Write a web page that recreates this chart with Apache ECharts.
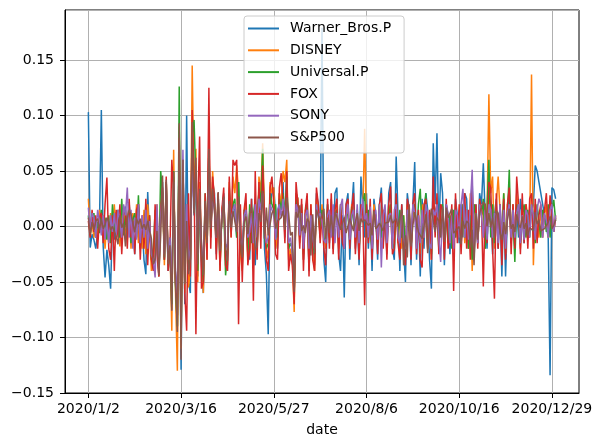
<!DOCTYPE html>
<html><head><meta charset="utf-8">
<script src="https://cdn.jsdelivr.net/npm/echarts@6/dist/echarts.min.js"></script>
<style>html,body{margin:0;padding:0;background:#fff}#c{width:593px;height:436px}</style>
</head><body><div id="c"></div>
<script>
var seriesNames = ['Warner_Bros.P','DISNEY','Universal.P','FOX','SONY','S&P500'];
var tickPositions = [0,50,100,150,200,250];
var tickLabels = ['2020/1/2','2020/3/16','2020/5/27','2020/8/6','2020/10/16','2020/12/29'];

var warner = [
.103,-.019,-.007,-.012,-.02,-.006,.004,.105,-.018,-.046,
-.021,-.035,-.056,.006,-.012,.013,-.004,.008,-.015,.01,
.018,-.008,.022,-.014,.005,-.025,.012,.02,-.018,.003,
-.03,-.043,.031,-.01,-.02,-.035,-.028,.015,-.045,.01,
.04,-.03,.035,-.04,-.02,-.075,.045,-.05,-.09,.085,
-.129,.06,-.07,.1,-.05,-.06,.09,.01,.05,-.045,
.03,-.035,-.06,.02,-.02,.07,-.01,.04,.03,-.025,
.025,-.03,.01,.03,-.03,-.04,.035,-.005,.02,.015,
-.01,.04,-.02,-.035,.01,.02,-.015,-.03,.025,-.02,
-.035,.015,.03,.02,.05,-.02,-.043,-.097,.02,.03,
.035,.01,-.02,.03,.015,.04,-.01,.05,-.02,-.03,
-.02,-.065,.03,.025,-.01,.02,-.03,.01,.025,-.04,
.01,-.02,-.035,.03,.02,-.01,.179,-.03,-.05,.02,
-.015,.025,-.02,.03,.035,-.025,-.04,.01,-.064,.02,
.03,-.03,.015,.04,-.02,.01,-.035,.045,.02,-.01,
.03,-.02,.015,-.04,.025,.01,-.03,.02,.035,-.015,
.01,-.025,.03,.04,-.02,-.03,.063,.01,-.04,.02,
-.02,-.05,.03,.015,-.035,.02,.058,-.03,.01,-.045,
.025,-.02,.03,.015,-.03,-.056,.075,.02,.084,-.01,
.048,.03,-.035,.02,.01,-.025,.015,-.02,.025,.01,
-.015,.02,-.01,.03,.025,-.02,.015,.04,-.03,.02,
-.015,.03,.02,.057,.01,-.02,.03,.02,-.025,.01,
.025,-.02,.015,-.045,.02,-.045,.01,.03,-.015,.02,
-.02,.015,-.01,.025,.01,-.015,.02,-.01,.015,.01,
.02,.055,.05,.04,.03,.02,.01,0,-.01,-.134,
.035,.033,.025];

var disney = [
.025,-.005,.003,-.01,.008,-.012,.015,-.004,.01,-.02,
.005,-.015,.012,-.008,.02,-.01,.006,-.018,.01,.015,
-.012,.008,.018,-.02,.012,-.006,.02,-.015,.005,-.02,
.015,-.025,.02,-.005,-.04,-.03,-.01,.02,-.045,.005,
.03,-.035,.04,-.03,-.015,-.094,.069,-.06,-.13,.09,
-.11,.05,-.06,.02,-.055,-.04,.145,.03,.07,-.05,
.04,-.02,-.06,.015,-.03,.08,-.01,.05,.02,-.02,
.03,-.04,.015,.025,-.03,-.035,.04,-.01,.045,.03,
.055,.03,-.025,-.04,.01,.02,-.03,-.02,.015,-.035,
.02,-.025,.045,.03,.075,.01,-.02,-.03,.04,.03,
.035,-.02,-.01,.03,.02,.05,.04,.06,-.03,-.02,
-.03,-.077,.03,.025,-.015,.02,-.03,.015,.01,-.035,
.02,-.025,-.04,.025,.015,-.01,.02,-.01,-.02,.015,
-.01,.02,-.015,.01,.02,-.02,.015,-.01,.005,.01,
.015,-.01,.02,.01,-.015,.005,-.02,.015,.01,.088,
-.005,.01,-.01,-.015,.02,.005,-.01,.01,-.02,.015,
.01,-.015,.02,.01,-.02,-.01,.02,-.015,.01,-.02,
.01,-.03,.02,.015,-.02,.01,.02,-.015,.01,-.025,
.02,-.01,.015,-.02,.01,-.03,.025,.01,.02,-.015,
.02,.01,-.02,.015,-.01,-.015,.01,-.02,.02,-.01,
.015,-.01,.02,-.015,.01,-.02,.03,-.04,.02,.015,
-.01,.02,.015,.01,-.02,.01,.119,.03,.045,-.02,
.02,.045,.015,-.02,.03,-.025,.02,.015,-.01,.02,
-.015,.03,.01,-.02,.015,-.01,.02,.01,-.005,.137,
-.035,.02,.005,-.01,.015,-.005,.01,.02,-.01,.005,
.015,-.005,.01];

var universal = [
.01,-.008,.005,.012,-.01,.004,-.006,.015,-.01,.008,
-.012,.01,-.015,.02,-.005,.008,.015,-.01,.025,-.008,
.01,-.012,.02,-.015,.006,.012,-.01,.028,-.02,.005,
-.015,.02,-.025,.01,-.03,-.025,.015,-.01,-.04,.05,
.03,-.03,.04,-.035,-.01,-.07,.05,-.055,-.09,.126,
-.1,.06,-.05,.01,-.04,-.03,.08,.096,.04,-.04,
.03,-.03,-.05,.03,-.02,.06,-.005,.035,.02,-.015,
.025,-.035,.01,.02,-.044,-.025,.03,.005,.02,.025,
-.01,.04,-.02,-.03,.015,.01,-.025,.02,-.015,.01,
.025,-.02,.035,.02,.07,-.01,-.02,-.015,.03,.02,
.015,.02,-.01,.025,.015,.03,.01,.045,-.02,-.015,
-.02,-.06,.025,.02,-.01,.015,-.025,.01,.02,-.03,
.015,-.015,-.025,.02,.01,-.005,.015,-.01,-.015,.02,
-.01,.015,-.02,.01,.015,-.015,.02,-.01,.005,.012,
.01,-.012,.018,.005,-.01,.015,-.02,.01,.02,.03,
-.01,.015,-.005,-.02,.01,.005,-.015,.02,-.01,.01,
.015,-.01,.01,.02,-.015,-.02,.025,-.01,.015,-.01,
.01,-.025,.015,.01,-.02,.015,.02,-.01,.02,.034,
-.01,.015,.03,-.015,.01,-.025,.02,.015,.01,-.02,
.015,.02,-.01,.01,-.015,.01,-.02,.015,-.01,.005,
.01,-.015,.02,-.01,.015,-.02,.01,-.03,.02,.01,
-.015,.02,.01,.025,-.02,.015,.06,-.01,.02,-.015,
.015,-.01,.02,-.015,.03,-.02,.01,.051,-.015,.01,
-.032,.02,.01,-.015,.01,.02,-.01,.015,-.01,.02,
.01,-.015,.02,.005,-.01,.015,.01,-.005,.02,-.01,
.015,.024,.005];

var fox = [
.005,-.01,.015,-.005,.01,-.02,.008,.012,-.015,.02,
.044,-.02,-.03,.01,-.04,.015,-.01,.02,-.025,.01,
.015,-.02,.025,-.01,.005,-.025,.015,.02,-.03,.01,
-.02,.025,-.035,.01,-.03,-.04,.02,-.025,-.045,.015,
.035,-.03,.045,-.04,-.02,.06,.03,-.05,-.08,.08,
-.09,.05,-.06,-.094,.03,-.045,.105,.04,-.097,.02,
.081,-.056,-.05,.03,-.03,.125,-.02,.045,.025,-.03,
.03,-.04,.015,.035,-.035,-.04,.045,-.01,.06,.055,
.06,-.088,.02,-.05,.015,.03,-.035,-.02,.025,-.067,
.05,-.03,.04,-.02,.055,.01,-.03,-.04,.035,.045,
.02,-.025,-.03,.035,.048,.02,-.015,.05,-.04,-.025,
-.035,-.07,.04,.02,-.02,.025,-.04,.015,.03,-.045,
.02,-.03,-.04,.035,.02,-.015,.01,-.02,-.035,.025,
-.02,.03,-.025,.015,.025,-.03,.02,-.015,-.02,.02,
.025,-.02,.015,.03,-.025,.01,-.03,.02,.015,-.071,
.02,-.015,.025,-.03,.015,.01,-.025,.02,.03,-.02,
.015,-.03,.02,.036,-.025,-.02,.03,-.015,-.03,.02,
-.02,-.035,.025,.015,-.03,.02,.03,-.025,.015,-.03,
-.037,.02,.025,-.02,.015,-.03,.045,-.01,.03,-.025,
.02,.015,-.03,.025,-.02,-.01,.02,-.058,.03,-.015,
.02,-.025,.015,.03,-.02,.015,-.03,.035,-.025,.02,
-.02,.025,.015,-.054,.02,-.015,.04,.035,-.02,-.065,
.03,-.02,.02,-.035,.025,-.03,.02,.035,-.025,.02,
-.02,.045,.02,-.025,.03,-.015,.02,-.02,.025,.03,
-.02,.025,-.015,.01,.02,-.01,.015,.03,-.005,.028,
.01,-.005,.008];

var sony = [
.017,-.005,.012,.008,-.01,.015,.005,-.008,.01,-.012,
.006,-.015,.01,-.005,.012,-.008,.015,.005,-.01,.02,
.01,.035,-.01,.015,-.02,.008,-.012,.02,-.015,.01,
-.01,.015,-.02,.005,-.025,-.03,-.046,.02,-.035,.01,
.03,-.025,.035,-.03,-.01,-.05,.04,-.04,-.06,.05,
-.045,.069,-.035,.02,-.03,-.02,.05,.02,.035,-.025,
.02,-.015,-.035,.015,-.01,.04,.005,.025,.015,-.01,
.02,-.02,.01,.025,-.015,-.02,.02,.005,.015,.02,
-.005,.02,-.01,-.02,.01,.015,-.01,-.005,.012,-.015,
.02,-.01,.025,.015,.03,-.005,-.015,-.01,.02,.015,
.01,-.012,.015,.02,.008,.025,.01,.02,-.015,-.01,
-.01,-.04,.02,.015,-.008,.012,-.02,.01,.015,-.02,
.01,-.01,-.02,.02,.008,.012,.005,-.012,-.015,.01,
.015,-.01,.02,-.015,.012,-.01,.018,.025,-.02,.01,
.02,-.012,.01,.015,-.01,.02,-.015,.01,.025,.005,
.012,-.01,.018,-.02,.01,.015,-.012,.02,-.037,.01,
.02,-.015,.01,.012,-.02,.015,.02,-.01,-.015,.012,
-.01,-.02,.015,.01,-.015,.02,.012,-.02,.01,-.015,
.015,-.01,.02,.012,-.015,-.02,.015,.01,.02,-.01,
-.032,.015,-.01,.02,.012,-.015,.01,-.02,.015,.01,
-.01,.02,.034,-.01,.015,-.012,.02,.051,-.02,.012,
-.015,.02,.01,-.01,.015,-.012,.02,.015,-.01,.012,
.01,-.015,.02,-.01,.015,-.02,.012,.02,-.01,.015,
-.01,.012,.02,-.015,.01,-.012,.015,.01,-.01,.02,
.01,-.012,.015,.025,.02,-.01,.012,.005,-.01,.015,
.02,-.005,.01];

var sp500 = [
.008,-.007,.004,-.003,.005,.007,-.003,.007,-.002,.002,
.008,.004,-.003,0,.001,-.009,-.016,.01,-.001,.003,
-.018,.007,.015,.011,.003,-.005,.007,.002,.007,-.002,
.002,-.003,.005,-.004,-.011,-.034,-.03,-.004,-.044,-.008,
.046,-.028,.042,-.034,-.017,-.076,.049,-.049,-.095,.093,
-.12,.06,-.052,.005,-.043,-.029,.094,.012,.062,-.034,
.034,-.016,-.044,.023,-.015,.07,-.002,.034,.014,-.01,
.031,-.022,.006,.027,-.018,-.031,.023,-.001,.014,.015,
-.005,.027,-.009,-.028,.004,.009,-.007,.012,.017,0,
-.021,-.018,.012,.004,.032,-.011,.017,-.008,.002,.012,
.015,-.002,.005,.004,.008,.014,-.003,.026,.012,-.008,
-.005,-.059,.013,.008,.019,-.004,.001,-.006,.007,.004,
-.026,.011,-.024,.015,.015,.005,.005,.016,-.011,.008,
-.006,.01,-.009,.013,.009,.003,-.003,.003,.008,-.006,
-.006,.007,.007,-.004,-.004,.012,-.004,.007,.004,.006,
.006,.001,.003,-.008,.014,-.002,0,.003,.002,-.004,
.003,.003,.004,.01,.003,.002,.007,0,.008,.015,
-.035,-.008,-.028,.02,-.018,.001,.013,.005,-.005,-.008,
-.011,-.012,.011,-.024,.003,.016,.016,-.005,.008,.005,
-.01,.018,-.014,.017,.008,.009,.016,-.006,-.007,-.002,
0,-.016,.005,-.002,.005,.003,-.019,-.003,-.035,.012,
-.012,.012,.018,.022,.02,0,.012,-.001,.008,-.01,
.014,.012,-.005,-.012,.004,-.007,.006,.016,-.002,.002,
-.005,.011,.002,-.001,.009,-.002,.003,-.008,-.001,-.001,
-.004,.013,.002,.006,-.004,-.004,-.002,.001,.004,.009,
-.002,.001,.006];

var allData = [warner, disney, universal, fox, sony, sp500];
var colors = ['#1f77b4','#ff7f0e','#2ca02c','#d62728','#9467bd','#8c564b'];
var FONT = 'DejaVu Sans';

function fmt(v){ if (v > 0.16) return ''; var s = Math.abs(v).toFixed(2); return (v < -1e-9 ? '\u2212' : '') + s; }

var series = seriesNames.map(function(n, k){
  return {
    name: n, type: 'line', showSymbol: false, symbol: 'none', z: 3,
    data: allData[k].map(function(v, i){ return [i, v]; }),
    lineStyle: {color: colors[k], width: 1.5}, itemStyle: {color: colors[k]},
    emphasis: {disabled: true}
  };
});
series.unshift({
  name: 'xgrid', type: 'line', data: [], z: 1, silent: true,
  markLine: {
    silent: true, symbol: ['none','none'], z: 1, animation: false,
    label: {show: false},
    lineStyle: {color: '#b0b0b0', width: 1, type: 'solid'},
    emphasis: {disabled: true},
    data: tickPositions.map(function(p){ return {xAxis: p}; })
  }
});

var chart = echarts.init(document.getElementById('c'), null, {renderer:'canvas'});
chart.setOption({
  animation: false,
  backgroundColor: '#fff',
  grid: {left: 65, top: 10, width: 514, height: 383, containLabel: false, outerBoundsMode: 'none',
    show: true, borderColor: '#000', borderWidth: 1, backgroundColor: 'transparent'},
  legend: {
    orient: 'vertical', left: 244, top: 16,
    data: seriesNames,
    icon: 'rect', itemWidth: 31, itemHeight: 2, itemGap: 6.8,
    padding: [5, 13, 8, 4],
    backgroundColor: 'rgba(255,255,255,0.8)', borderColor: '#cccccc', borderWidth: 1, borderRadius: 3,
    textStyle: {fontFamily: FONT, fontSize: 14, color: '#000', padding: [0,0,0,6], lineHeight: 15}
  },
  xAxis: {
    type: 'value', min: -12.6, max: 264.6,
    name: 'date', nameLocation: 'middle', nameGap: 30,
    nameTextStyle: {fontFamily: FONT, fontSize: 14, color: '#000'},
    axisLine: {show: true, onZero: false, lineStyle: {color: '#000', width: 1}},
    axisTick: {show: true, length: 5, lineStyle: {color: '#000'}, customValues: tickPositions},
    axisLabel: {fontFamily: FONT, fontSize: 14, color: '#000', margin: 9, customValues: tickPositions,
      formatter: function(v){ var i = tickPositions.indexOf(Math.round(v)); return i >= 0 ? tickLabels[i] : ''; }},
    splitLine: {show: false}
  },
  yAxis: {
    type: 'value', min: -0.15, max: 0.195, interval: 0.05,
    axisLine: {show: true, onZero: false, lineStyle: {color: '#000', width: 1}},
    axisTick: {show: true, length: 5, lineStyle: {color: '#000'}},
    axisLabel: {fontFamily: FONT, fontSize: 14, color: '#000', margin: 11, formatter: fmt, showMaxLabel: false},
    splitLine: {show: true, lineStyle: {color: '#b0b0b0', width: 1}}
  },
  series: series
});
</script></body></html>
